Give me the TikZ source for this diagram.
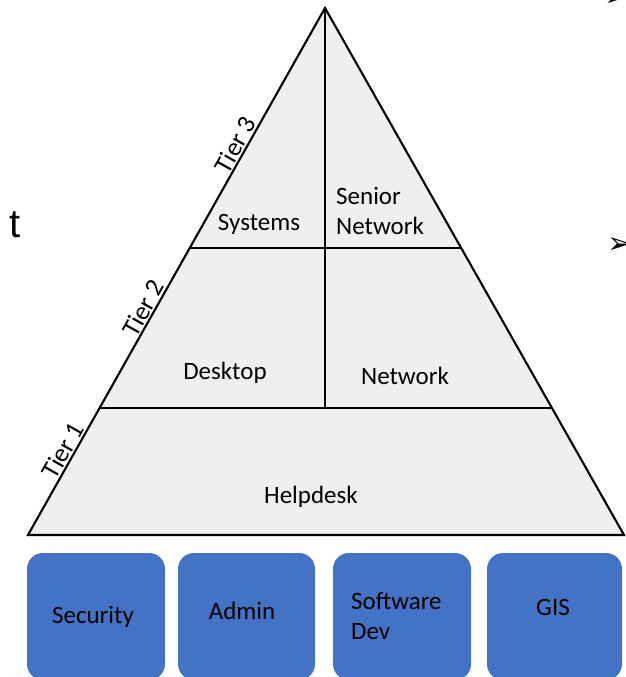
\documentclass[tikz,border=0pt]{standalone}
\usepackage{fontspec}
\setmainfont{Carlito}
\newfontfamily\slidefont{Liberation Sans}
\newfontfamily\symfont{DejaVu Sans}
\usetikzlibrary{calc}
\definecolor{tierfill}{HTML}{EFEFEF}
\definecolor{unitblue}{HTML}{4472C4}
\tikzset{
  tierline/.style={line width=2.1pt, line join=miter},
  unitbox/.style={fill=unitblue, rounded corners=16pt},
  lbl/.style={font=\fontsize{25}{30}\selectfont, inner sep=0pt},
  tierlbl/.style={font=\fontsize{26}{28}\selectfont, sloped, above, inner sep=2pt},
}
\begin{document}
\begin{tikzpicture}[x=1pt, y=-1pt]
  \useasboundingbox (0,0) rectangle (626,677);
  % pyramid
  \coordinate (apex) at (325,8);
  \coordinate (bl) at (28,535);
  \coordinate (br) at (624,535);
  \filldraw[tierline, fill=tierfill] (bl) -- (apex) -- (br) -- cycle;
  \coordinate (l1) at ($(bl)!0.241!(apex)$);
  \coordinate (r1) at ($(br)!0.241!(apex)$);
  \coordinate (l2) at ($(bl)!0.545!(apex)$);
  \coordinate (r2) at ($(br)!0.545!(apex)$);
  \draw[tierline] (l1) -- (r1);
  \draw[tierline] (l2) -- (r2);
  \draw[tierline] (apex) -- (apex |- l1);
  % tier labels
  \path (bl) -- node[tierlbl, pos=0.15] (tier1) {Tier 1}
                node[tierlbl, pos=0.42] (tier2) {Tier 2}
                node[tierlbl, pos=0.73] (tier3) {Tier 3} (apex);
  % sections
  \node[lbl] (systems) at (259,224) {Systems};
  \node[lbl, align=left, anchor=west] (senior) at (336,211) {Senior\\Network};
  \node[lbl] (desktop) at (225,373) {Desktop};
  \node[lbl] (network) at (405,376) {Network};
  \node[lbl] (helpdesk) at (311,497) {Helpdesk};
  % units
  \foreach \xl/\xr in {27/165, 178/315, 333/471, 487/622}
    \fill[unitbox] (\xl,553) rectangle (\xr,680);
  \node[lbl] (security) at (93,617) {Security};
  \node[lbl] (admin) at (242,611) {Admin};
  \node[lbl, align=left, anchor=west] (softdev) at (351,616) {Software\\Dev};
  \node[lbl] (gis) at (553,607) {GIS};
  % leftovers of the slide
  \node[font=\slidefont\fontsize{40}{40}\selectfont, anchor=base west, inner sep=0pt] (stray) at (9,237) {t};
  \node[font=\symfont\fontsize{30}{30}\selectfont, inner sep=0pt] (bullet1) at (620,245) {➢};
  \node[font=\symfont\fontsize{30}{30}\selectfont, inner sep=0pt] (bullet2) at (617,-1) {➢};
\end{tikzpicture}
\end{document}
